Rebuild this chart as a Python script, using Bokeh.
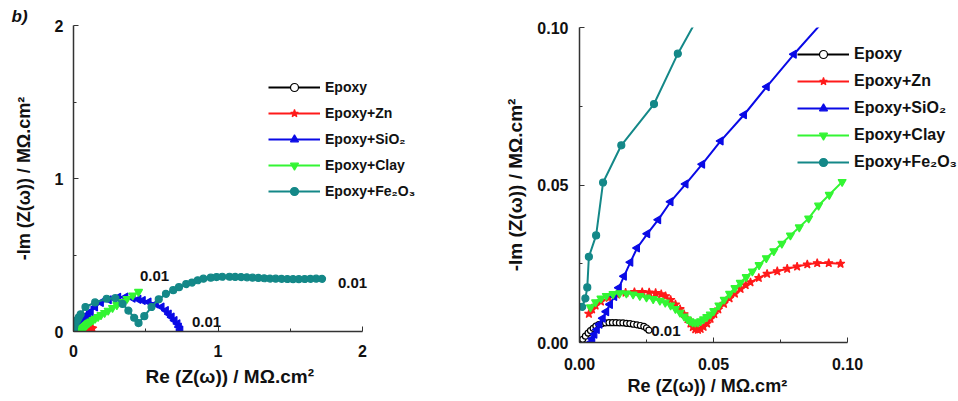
import math
from bokeh.plotting import figure
from bokeh.layouts import row, column
from bokeh.models import FixedTicker, NumeralTickFormatter, Range1d, Title
from bokeh.core.properties import value
from bokeh.embed import file_html
from bokeh.resources import INLINE

# ---------------- data (MΩ.cm²) ----------------
series_names = ["Epoxy", "Epoxy+Zn", "Epoxy+SiO₂", "Epoxy+Clay", "Epoxy+Fe₂O₃"]

epoxy_x = [0.0005, 0.0012, 0.0022, 0.0032, 0.0041, 0.0051, 0.0061, 0.0072, 0.0084, 0.0097,
           0.0110, 0.0123, 0.0136, 0.0149, 0.0162, 0.0175, 0.0188, 0.0201, 0.0214, 0.0227,
           0.0240, 0.0250, 0.0259]
epoxy_y = [0.0002, 0.0010, 0.0020, 0.0030, 0.0038, 0.0045, 0.0052, 0.0057, 0.0060, 0.0062,
           0.0063, 0.0063, 0.0063, 0.0062, 0.0062, 0.0061, 0.0060, 0.0058, 0.0056, 0.0054,
           0.0051, 0.0046, 0.0039]

zn_x = [0.0035, 0.0047, 0.0060, 0.0080, 0.0109, 0.0140, 0.0172, 0.0205, 0.0234, 0.0260,
        0.0284, 0.0305, 0.0321, 0.0340, 0.0358, 0.0375, 0.0390, 0.0403, 0.0414, 0.0423,
        0.0432, 0.0442, 0.0452, 0.0463, 0.0476, 0.0489, 0.0503, 0.0518, 0.0539, 0.0560,
        0.0580, 0.0601, 0.0620, 0.0638, 0.0669, 0.0700, 0.0738, 0.0775, 0.0812, 0.0850,
        0.0887, 0.0930, 0.0974, 0.1050, 0.1130, 0.1220, 0.1320]
zn_y = [0.0091, 0.0105, 0.0117, 0.0130, 0.0142, 0.0152, 0.0158, 0.0160, 0.0160, 0.0159,
        0.0157, 0.0153, 0.0147, 0.0135, 0.0121, 0.0106, 0.0090, 0.0074, 0.0060, 0.0049,
        0.0042, 0.0040, 0.0043, 0.0050, 0.0060, 0.0075, 0.0090, 0.0105, 0.0123, 0.0140,
        0.0155, 0.0170, 0.0182, 0.0191, 0.0205, 0.0218, 0.0226, 0.0234, 0.0241, 0.0248,
        0.0252, 0.0252, 0.0250, 0.0249, 0.0245, 0.0235, 0.0200]

sio2_x = [0.0041, 0.0048, 0.0056, 0.0065, 0.0075, 0.0087, 0.0100, 0.0114, 0.0130, 0.0147,
          0.0166, 0.0190, 0.0215, 0.0253, 0.0294, 0.0340, 0.0396, 0.0458, 0.0527, 0.0614,
          0.0699, 0.0800, 0.0910, 0.1040, 0.1200, 0.1500, 0.1900, 0.2450, 0.3100, 0.3600,
          0.4100, 0.4500, 0.4800, 0.5200, 0.5700, 0.6100, 0.6400, 0.6600, 0.6800, 0.7000,
          0.7200, 0.7300, 0.7400]
sio2_y = [0.0000, 0.0012, 0.0026, 0.0041, 0.0058, 0.0077, 0.0098, 0.0121, 0.0146, 0.0174,
          0.0210, 0.0255, 0.0300, 0.0345, 0.0390, 0.0447, 0.0503, 0.0566, 0.0640, 0.0723,
          0.0812, 0.0915, 0.1020, 0.1150, 0.1300, 0.1600, 0.1900, 0.2070, 0.2240, 0.2250,
          0.2180, 0.2100, 0.2030, 0.1930, 0.1800, 0.1600, 0.1370, 0.1150, 0.0940, 0.0720,
          0.0500, 0.0300, 0.0100]

clay_x = [0.0041, 0.0060, 0.0080, 0.0100, 0.0125, 0.0150, 0.0175, 0.0200, 0.0225, 0.0250,
          0.0275, 0.0300, 0.0320, 0.0340, 0.0358, 0.0375, 0.0390, 0.0402, 0.0412, 0.0422,
          0.0432, 0.0442, 0.0452, 0.0463, 0.0475, 0.0488, 0.0501, 0.0520, 0.0540, 0.0560,
          0.0580, 0.0600, 0.0622, 0.0645, 0.0670, 0.0697, 0.0725, 0.0755, 0.0787, 0.0820,
          0.0855, 0.0892, 0.0932, 0.0980, 0.1030, 0.1100, 0.1200, 0.1350, 0.1500, 0.1700,
          0.1900, 0.2150, 0.2400, 0.2700, 0.3000, 0.3350, 0.3700, 0.4100, 0.4500]
clay_y = [0.0112, 0.0128, 0.0140, 0.0148, 0.0154, 0.0157, 0.0156, 0.0153, 0.0148, 0.0143,
          0.0138, 0.0133, 0.0127, 0.0118, 0.0107, 0.0095, 0.0083, 0.0074, 0.0068, 0.0064,
          0.0063, 0.0064, 0.0068, 0.0074, 0.0081, 0.0089, 0.0100, 0.0118, 0.0136, 0.0155,
          0.0173, 0.0190, 0.0208, 0.0226, 0.0246, 0.0268, 0.0290, 0.0314, 0.0340, 0.0366,
          0.0394, 0.0435, 0.0469, 0.0510, 0.0550, 0.0600, 0.0660, 0.0750, 0.0840, 0.0960,
          0.1080, 0.1220, 0.1370, 0.1550, 0.1730, 0.1930, 0.2130, 0.2360, 0.2600]

fe2o3_x = [0.0010, 0.0022, 0.0029, 0.0035, 0.0062, 0.0088, 0.0156, 0.0278, 0.0367, 0.0500,
           0.0830, 0.1500, 0.2300, 0.2900, 0.3400, 0.3800, 0.4200, 0.4500, 0.4900, 0.5400,
           0.5900, 0.6400, 0.6900, 0.7300, 0.7800, 0.8200, 0.8600, 0.9000, 0.9500, 0.9900,
           1.0300, 1.0800, 1.1200, 1.1600, 1.2000, 1.2400, 1.2800, 1.3200, 1.3600, 1.4000,
           1.4400, 1.4800, 1.5200, 1.5600, 1.6000, 1.6400, 1.6800, 1.7200]
fe2o3_y = [0.0113, 0.0140, 0.0175, 0.0272, 0.0340, 0.0508, 0.0626, 0.0757, 0.0917, 0.1120,
           0.1600, 0.1900, 0.2140, 0.2180, 0.1800, 0.1370, 0.0900, 0.0550, 0.1000, 0.1600,
           0.2100, 0.2460, 0.2700, 0.2900, 0.3100, 0.3200, 0.3350, 0.3450, 0.3520, 0.3560,
           0.3580, 0.3580, 0.3570, 0.3560, 0.3540, 0.3520, 0.3500, 0.3480, 0.3460, 0.3450,
           0.3440, 0.3430, 0.3420, 0.3420, 0.3430, 0.3440, 0.3450, 0.3440]

left_ticks = [0, 1, 2]
left_minor = [0.5, 1.5]
right_ticks = [0.0, 0.05, 0.10]
right_minor = [0.025, 0.075]

x_label = "Re (Z(ω)) / MΩ.cm²"
y_label = "-Im (Z(ω)) / MΩ.cm²"
note_text = "0.01"

FONT = "Liberation Sans"
colors = ["black", "#ff1a1a", "#0a0ae6", "#33f533", "#148888"]
markers = ["circle", "star", "triangle", "inverted_triangle", "circle"]
fills = ["white", "#ff1a1a", "#0a0ae6", "#33f533", "#148888"]
msizes = [6, 9, 8, 8, 7]
angles = [0, 0, math.pi / 2, 0, 0]
datasets = [(epoxy_x, epoxy_y), (zn_x, zn_y), (sio2_x, sio2_y), (clay_x, clay_y), (fe2o3_x, fe2o3_y)]


def style_axes(p, ticks, minor, axis_end, fmt=None):
    p.xaxis.bounds = (ticks[0], axis_end)
    for ax in (p.xaxis[0], p.yaxis[0]):
        ax.ticker = FixedTicker(ticks=ticks, minor_ticks=minor)
        if fmt:
            ax.formatter = NumeralTickFormatter(format=fmt)
        ax.axis_line_color = "#333333"
        ax.axis_line_width = 1.5
        ax.major_tick_line_color = "#333333"
        ax.minor_tick_line_color = "#333333"
        ax.major_tick_in = 5
        ax.major_tick_out = 0
        ax.minor_tick_in = 3
        ax.minor_tick_out = 0
        ax.major_label_text_font = FONT
        ax.major_label_text_font_style = "bold"
        ax.major_label_text_font_size = "16px"
        ax.major_label_text_color = "#111111"
        ax.axis_label_text_font = FONT
        ax.axis_label_text_font_style = "bold"
        ax.axis_label_text_color = "#111111"


def build(width, height, borders, xr, yr, legend_loc, legend_font, legend_spacing, clip_x=None):
    p = figure(width=width, height=height, output_backend="svg", toolbar_location=None,
               x_range=Range1d(*xr), y_range=Range1d(*yr),
               min_border_left=borders[0], min_border_right=borders[1],
               min_border_top=borders[2], min_border_bottom=borders[3])
    p.grid.visible = False
    p.outline_line_color = None
    p.background_fill_color = "white"
    p.yaxis.axis_label = y_label
    for i, (xs, ys) in enumerate(datasets):
        if clip_x is not None:
            keep = [k for k in range(len(xs)) if xs[k] <= clip_x * 1.0001]
            xs = [xs[k] for k in keep]
            ys = [ys[k] for k in keep]
        p.line(xs, ys, line_color=colors[i], line_width=2, legend_label=series_names[i])
        p.scatter(xs, ys, marker=markers[i], size=msizes[i], angle=angles[i],
                  line_color=colors[i], fill_color=fills[i], line_width=1.2,
                  legend_label=series_names[i])
    lg = p.legend[0]
    lg.location = legend_loc
    lg.background_fill_alpha = 0
    lg.border_line_alpha = 0
    lg.padding = 0
    lg.margin = 0
    lg.spacing = legend_spacing
    lg.glyph_width = 52
    lg.glyph_height = 20
    lg.label_height = 20
    lg.label_standoff = 5
    lg.label_text_font = FONT
    lg.label_text_font_style = "bold"
    lg.label_text_font_size = legend_font
    lg.label_text_color = "#111111"
    return p


def add_xlabel(p, offset, size, standoff):
    t = Title(text=x_label, align="left", offset=offset, standoff=standoff,
              text_font=FONT, text_font_style="bold", text_font_size=size,
              text_color="#111111")
    p.add_layout(t, "below")


# ---- left panel: axis 0..2 over 289 px, frame extends right for the legend ----
L_W, L_H = 488, 400
L_frame_w = L_W - 73
p1 = build(L_W, L_H, (73, 0, 25, 69), (0, 2.0 * L_frame_w / 289), (0, 2),
           (195, 130), "14px", 6)
style_axes(p1, left_ticks, left_minor, 2)
p1.yaxis.major_label_standoff = 10
p1.yaxis.axis_label_standoff = 18
p1.yaxis.axis_label_text_font_size = "18px"
p1.xaxis.major_label_standoff = 13
add_xlabel(p1, 72, "19px", 8)
p1.title.text = "b)"
p1.title.align = "left"
p1.title.offset = -62
p1.title.standoff = 0
p1.title.text_font = FONT
p1.title.text_font_style = "bold italic"
p1.title.text_font_size = "17px"
p1.title.text_color = "#111111"
left_notes_x = [1.83, 0.82, 0.46]
left_notes_y = [0.32, 0.06, 0.36]
p1.text(left_notes_x, left_notes_y, text=[note_text] * 3, text_font=value(FONT),
        text_font_style="bold", text_font_size="15px", text_baseline="middle",
        text_align="left", text_color="#111111")

# ---- right panel: axis 0..0.10 over 268 px ----
R_W, R_H = 958 - L_W, 400
R_frame_w = R_W - 91
p2 = build(R_W, R_H, (91, 0, 27, 58), (0, 0.10 * R_frame_w / 268), (0, 0.10),
           (218, 170), "16px", 7, clip_x=0.10)
style_axes(p2, right_ticks, right_minor, 0.10, fmt="0.00")
p2.yaxis.major_label_standoff = 11
p2.yaxis.axis_label_standoff = 8
p2.yaxis.axis_label_text_font_size = "19px"
p2.xaxis.major_label_standoff = 15
add_xlabel(p2, 48, "18px", 2)
p2.text([0.0268], [0.0038], text=[note_text], text_font=value(FONT), text_font_style="bold",
        text_font_size="15px", text_baseline="middle", text_align="left", text_color="#111111")

layout = row(column(p1), column(p2))
open("out.html", "w").write(file_html(layout, INLINE))
